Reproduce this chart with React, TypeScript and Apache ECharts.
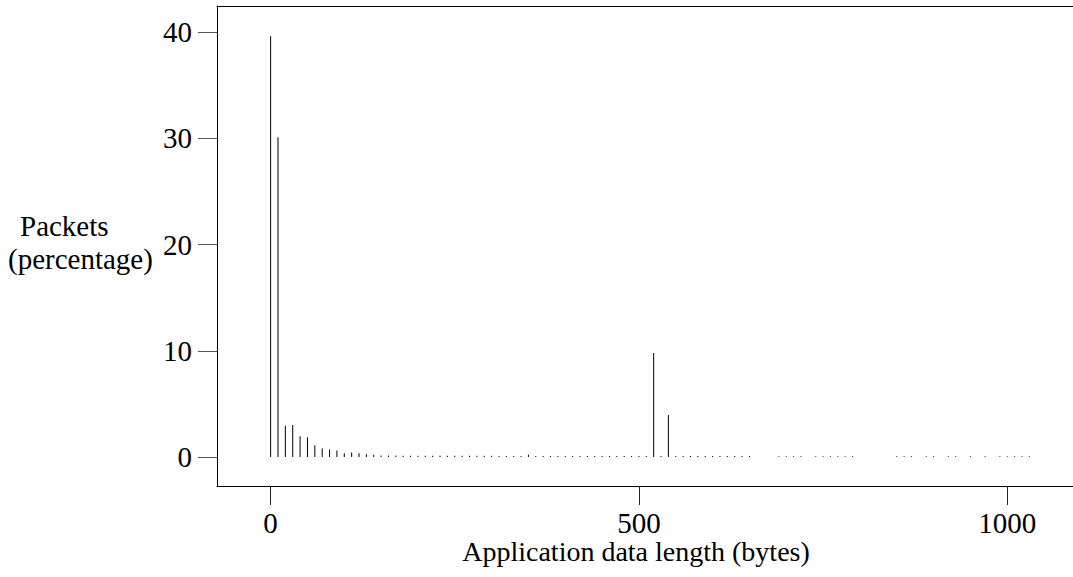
import React, { useEffect, useRef } from "react";
import * as echarts from "echarts";

// Application data length (bytes) of each bar
const lengths = [
  0, 10, 20, 30, 40, 50, 60, 70, 80, 90,
  100, 110, 120, 130, 140, 150, 160, 170, 180, 190,
  200, 210, 220, 230, 240, 250, 260, 270, 280, 290,
  300, 310, 320, 330, 340, 350, 360, 370, 380, 390,
  400, 410, 420, 430, 440, 450, 460, 470, 480, 490,
  500, 510, 520, 530, 540, 550, 560, 570, 580, 590,
  600, 610, 620, 630, 640, 650,
  690, 700, 710, 720,
  740, 750, 760, 770, 780, 790,
  850, 860, 870,
  890, 900,
  920, 930,
  950,
  970,
  990, 1000, 1010, 1020, 1030,
];

// Packets (percentage) for each length
const percentages = [
  39.6, 30.1, 2.95, 3.0, 1.95, 1.85, 1.1, 0.8, 0.7, 0.6,
  0.35, 0.42, 0.35, 0.25, 0.2, 0.15, 0.14, 0.13, 0.12, 0.12,
  0.12, 0.12, 0.11, 0.11, 0.11, 0.11, 0.11, 0.11, 0.11, 0.11,
  0.11, 0.1, 0.1, 0.1, 0.1, 0.22, 0.1, 0.1, 0.1, 0.1,
  0.1, 0.1, 0.1, 0.1, 0.1, 0.1, 0.1, 0.1, 0.1, 0.1,
  0.1, 0.1, 9.8, 0.1, 3.95, 0.1, 0.1, 0.1, 0.1, 0.1,
  0.1, 0.1, 0.1, 0.1, 0.1, 0.1,
  0.08, 0.08, 0.08, 0.08,
  0.08, 0.08, 0.08, 0.08, 0.08, 0.08,
  0.08, 0.08, 0.08,
  0.08, 0.08,
  0.08, 0.08,
  0.08,
  0.08,
  0.08, 0.08, 0.08, 0.08, 0.08,
];

const xTicks = [0, 500, 1000];
const yTicks = [0, 10, 20, 30, 40];

const xTitle = "Application data length (bytes)";
const yTitleLine1 = "Packets";
const yTitleLine2 = "(percentage)";

const FONT = "'Liberation Serif', 'Times New Roman', serif";
const X_MIN = -72.8;
const X_MAX = 1089.3;

export default function App() {
  const ref = useRef<HTMLDivElement>(null);

  useEffect(() => {
    if (!ref.current) return;
    const chart = echarts.init(ref.current, undefined, { renderer: "svg" });
    const data = lengths.map((x, i) => [x, percentages[i]]);
    chart.setOption({
      animation: false,
      backgroundColor: "#fff",
      grid: {
        left: 217,
        top: 6,
        right: 0,
        bottom: 91,
        show: false,
      },
      xAxis: [
        {
          type: "value",
          position: "bottom",
          min: X_MIN,
          max: X_MAX,
          axisLine: { show: true, onZero: false, lineStyle: { color: "#000", width: 1 } },
          splitLine: { show: false },
          axisTick: {
            show: true,
            customValues: xTicks,
            length: 19,
            inside: false,
            lineStyle: { color: "#222", width: 1 },
          },
          axisLabel: {
            customValues: xTicks,
            margin: 22,
            fontFamily: FONT,
            fontSize: 29,
            color: "#000",
            formatter: (v: number) => String(v),
          },
        },
        {
          type: "value",
          position: "top",
          min: X_MIN,
          max: X_MAX,
          axisLine: { show: true, onZero: false, lineStyle: { color: "#000", width: 1 } },
          splitLine: { show: false },
          axisTick: { show: false },
          axisLabel: { show: false },
        },
      ],
      yAxis: {
        type: "value",
        position: "left",
        min: -2.73,
        max: 42.45,
        axisLine: { show: true, onZero: false, lineStyle: { color: "#000", width: 1 } },
        splitLine: { show: false },
        axisTick: {
          show: true,
          customValues: yTicks,
          length: 19,
          inside: false,
          lineStyle: { color: "#555", width: 1 },
        },
        axisLabel: {
          customValues: yTicks,
          margin: 25,
          fontFamily: FONT,
          fontSize: 29,
          color: "#000",
          formatter: (v: number) => String(v),
        },
      },
      graphic: [
        {
          type: "text",
          left: 20,
          top: 211,
          style: { text: yTitleLine1, font: `29px ${FONT}`, fill: "#000" },
        },
        {
          type: "text",
          left: 8,
          top: 244,
          style: { text: yTitleLine2, font: `29px ${FONT}`, fill: "#000" },
        },
        {
          type: "text",
          x: 636,
          y: 537,
          style: {
            text: xTitle,
            font: `28px ${FONT}`,
            fill: "#000",
            align: "center",
            verticalAlign: "top",
          },
        },
      ],
      series: [
        {
          type: "bar",
          xAxisIndex: 0,
          data,
          barWidth: 1,
          itemStyle: { color: "#000" },
          silent: true,
        },
      ],
    });
    return () => chart.dispose();
  }, []);

  return (
    <div
      ref={ref}
      style={{ position: "fixed", left: 0, top: 0, width: 1073, height: 577 }}
    />
  );
}
